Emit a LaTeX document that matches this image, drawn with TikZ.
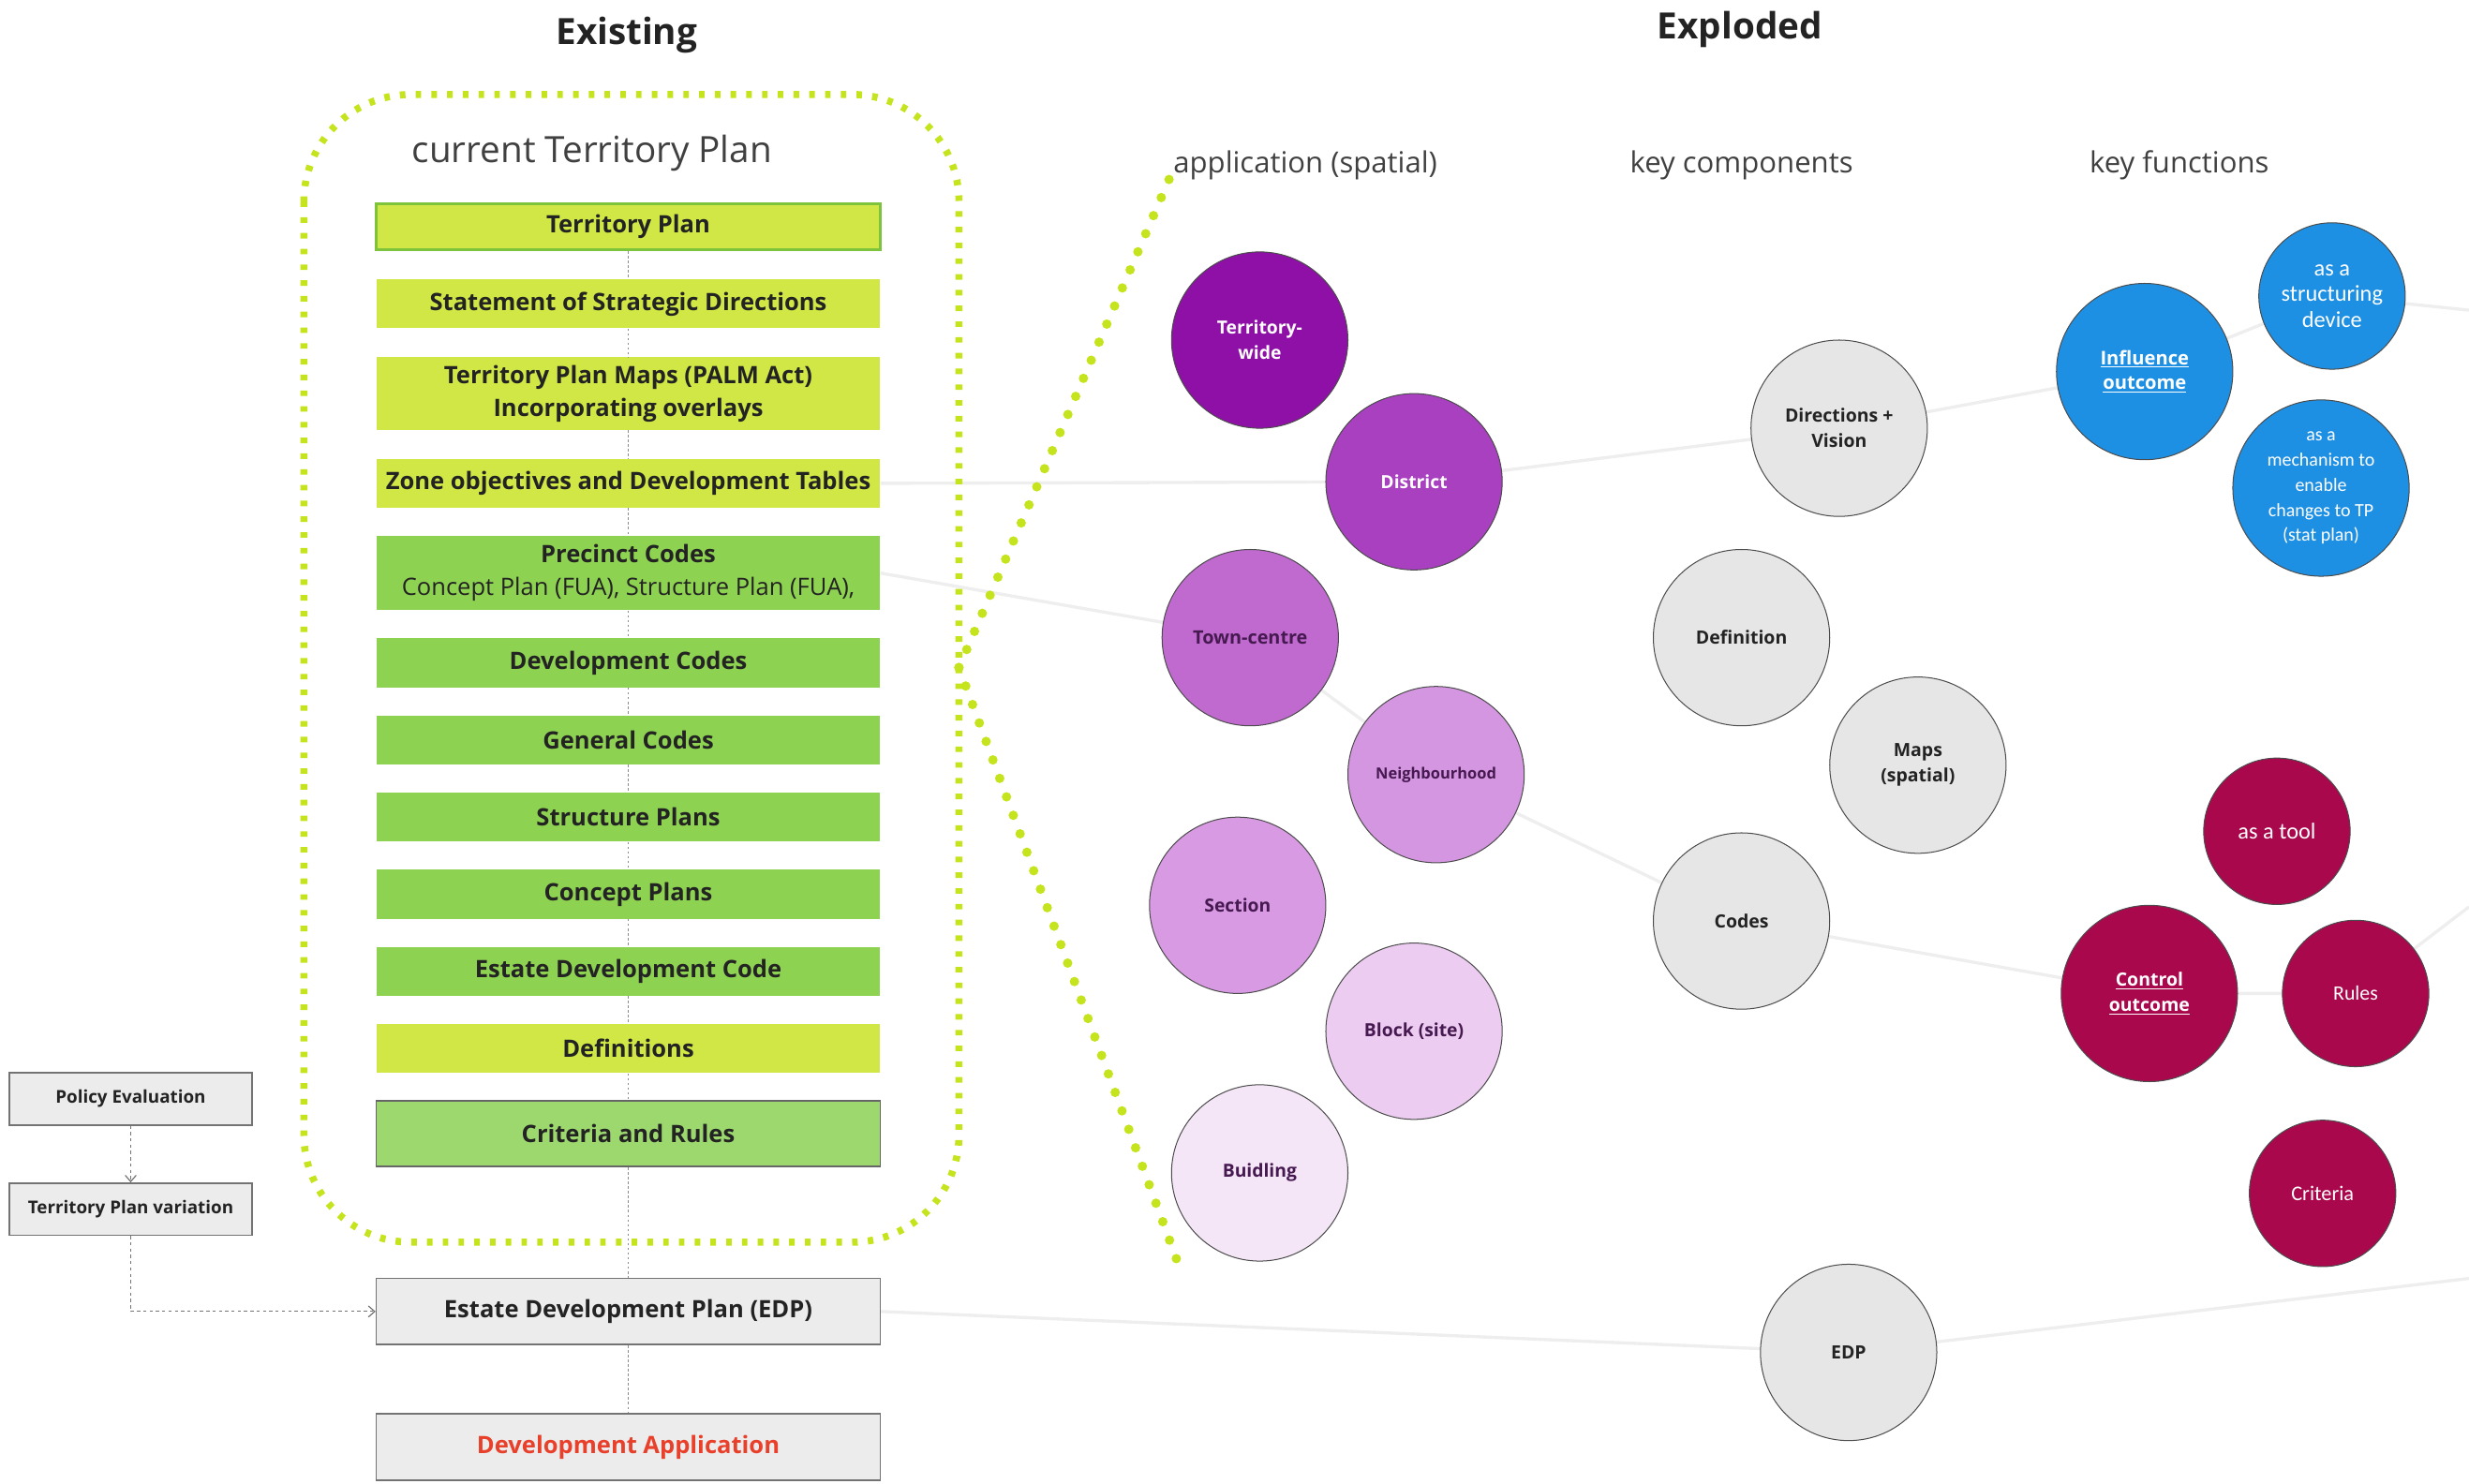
\documentclass[tikz,border=0pt]{standalone}
\usepackage{fontspec}
\setmainfont{Open Sans}
\newfontfamily\calfont{Carlito}
\usetikzlibrary{arrows.meta}
\pgfdeclarelayer{bg}
\pgfsetlayers{bg,main}

\definecolor{ygreen}{RGB}{208,231,70}
\definecolor{mgreen}{RGB}{142,210,82}
\definecolor{lgreen}{RGB}{156,216,110}
\definecolor{tpborder}{RGB}{125,195,60}
\definecolor{dotgreen}{RGB}{198,228,30}
\definecolor{boxgrey}{RGB}{236,236,236}
\definecolor{circgrey}{RGB}{230,230,230}
\definecolor{pur1}{RGB}{142,16,166}
\definecolor{pur2}{RGB}{168,64,192}
\definecolor{pur3}{RGB}{192,106,208}
\definecolor{pur4}{RGB}{212,150,224}
\definecolor{pur5}{RGB}{216,154,226}
\definecolor{pur6}{RGB}{236,204,240}
\definecolor{pur7}{RGB}{245,230,247}
\definecolor{purtext}{RGB}{70,25,80}
\definecolor{blue1}{RGB}{30,144,228}
\definecolor{crim}{RGB}{170,8,76}
\definecolor{redtext}{RGB}{232,64,42}
\definecolor{faint}{RGB}{238,238,238}
\definecolor{txt}{RGB}{35,35,35}

\tikzset{
  tpbox/.style={minimum width=320, minimum height=31, inner sep=0, align=center,
    font=\fontsize{15.2}{21}\selectfont\bfseries, text=txt},
  greybox/.style={tpbox, fill=boxgrey, draw=black!55, line width=1, minimum height=42},
  sidebox/.style={minimum width=154, minimum height=33, inner sep=0, align=center,
    fill=boxgrey, draw=black!55, line width=1, font=\fontsize{11.2}{13}\selectfont\bfseries, text=txt},
  circ/.style={circle, draw=black!70, line width=0.6, minimum size=112, inner sep=0, align=center},
  scirc/.style={circ, minimum size=93},
  gcirc/.style={circ, fill=circgrey, text=txt, font=\fontsize{11.6}{16}\selectfont\bfseries},
  pcirc/.style={circ, font=\fontsize{11.5}{16}\selectfont\bfseries},
  vdot/.style={draw=black!45, line width=0.7, dash pattern=on 1.5pt off 1.5pt},
  sidearrow/.style={draw=black!55, line width=0.7, dash pattern=on 2pt off 2pt, -{Straight Barb[length=4pt,width=7pt]}},
  bigdots/.style={draw=dotgreen, line width=4.5, dash pattern=on 3.5pt off 6.5pt},
  expdots/.style={draw=dotgreen, line width=6, line cap=round, dash pattern=on 0pt off 12.5pt},
  faintline/.style={draw=faint, line width=2},
  heading/.style={font=\fontsize{23}{26}\selectfont\bfseries, text=txt},
  colhead/.style={font=\fontsize{18.5}{22}\selectfont, text=black!75},
}

\begin{document}
\begin{tikzpicture}[x=1pt,y=-1pt]
\useasboundingbox (0,0) rectangle (1568,942);

% headings
\node[heading] (hExist) at (398,22) {Existing};
\node[heading] (hExpl) at (1105,19) {Exploded};
\node[font=\fontsize{23}{26}\selectfont, text=black!75] (hCur) at (376,97) {current Territory Plan};
\node[colhead] (hApp) at (829,105) {application (spatial)};
\node[colhead] (hKey) at (1106,105) {key components};
\node[colhead] (hFun) at (1384,105) {key functions};

% dotted container
\draw[bigdots, rounded corners=68] (193,60) rectangle (609,789);

% exploded lines
\coordinate (apex) at (609,424);
\coordinate (exTop) at (745,108);
\coordinate (exBot) at (748,802);
\draw[expdots] (apex) -- (exTop);
\draw[expdots] (apex) -- (exBot);

% boxes
\node[tpbox, fill=ygreen, draw=tpborder, line width=2.2, minimum height=29] (b1) at (399,144) {Territory Plan};
\node[tpbox, fill=ygreen] (b2) at (399,193) {Statement of Strategic Directions};
\node[tpbox, fill=ygreen, minimum height=46] (b3) at (399,250) {Territory Plan Maps (PALM Act)\\Incorporating overlays};
\node[tpbox, fill=ygreen] (b4) at (399,307) {Zone objectives and Development Tables};
\node[tpbox, fill=mgreen, minimum height=47] (b5) at (399,364) {Precinct Codes\\{\mdseries Concept Plan (FUA), Structure Plan (FUA),}};
\node[tpbox, fill=mgreen] (b6) at (399,421) {Development Codes};
\node[tpbox, fill=mgreen] (b7) at (399,470) {General Codes};
\node[tpbox, fill=mgreen] (b8) at (399,519) {Structure Plans};
\node[tpbox, fill=mgreen] (b9) at (399,568) {Concept Plans};
\node[tpbox, fill=mgreen] (b10) at (399,617) {Estate Development Code};
\node[tpbox, fill=ygreen] (b11) at (399,666) {Definitions};
\node[tpbox, fill=lgreen, draw=black!60, line width=1, minimum height=42] (b12) at (399,720) {Criteria and Rules};
\node[greybox] (b13) at (399,833) {Estate Development Plan (EDP)};
\node[greybox, text=redtext] (b14) at (399,919) {Development Application};

\foreach \a/\b in {b1/b2,b2/b3,b3/b4,b4/b5,b5/b6,b6/b7,b7/b8,b8/b9,b9/b10,b10/b11,b11/b12,b12/b13,b13/b14}
  \draw[vdot] (\a.south) -- (\b.north);

% side boxes
\node[sidebox] (pe) at (83,698) {Policy Evaluation};
\node[sidebox] (tpv) at (83,768) {Territory Plan variation};
\draw[sidearrow] (pe.south) -- (tpv.north);
\draw[sidearrow] (tpv.south) |- (b13.west);

% purple circles
\node[pcirc, fill=pur1, text=white] (tw) at (800,216) {Territory-\\wide};
\node[pcirc, fill=pur2, text=white] (dist) at (898,306) {District};
\node[pcirc, fill=pur3, text=purtext, font=\fontsize{11.8}{16}\selectfont\bfseries] (town) at (794,405) {Town-centre};
\node[pcirc, fill=pur4, text=purtext, font=\fontsize{9.8}{12}\selectfont\bfseries] (neigh) at (912,492) {Neighbourhood};
\node[pcirc, fill=pur5, text=purtext] (sect) at (786,575) {Section};
\node[pcirc, fill=pur6, text=purtext] (block) at (898,655) {Block (site)};
\node[pcirc, fill=pur7, text=purtext] (build) at (800,745) {Buidling};

% grey circles
\node[gcirc] (dv) at (1168,272) {Directions +\\Vision};
\node[gcirc] (defn) at (1106,405) {Definition};
\node[gcirc] (maps) at (1218,486) {Maps\\(spatial)};
\node[gcirc] (codes) at (1106,585) {Codes};
\node[gcirc] (edp) at (1174,859) {EDP};

% blue circles
\node[circ, fill=blue1, text=white, font=\fontsize{12}{16}\selectfont\bfseries] (infl) at (1362,236) {\underline{Influence}\\\underline{outcome}};
\node[scirc, fill=blue1, text=white, font=\calfont\fontsize{14.5}{16.5}\selectfont] (struct) at (1481,188) {as a\\structuring\\device};
\node[circ, fill=blue1, text=white, font=\calfont\fontsize{11.9}{16}\selectfont] (mech) at (1474,310) {as a\\mechanism to\\enable\\changes to TP\\(stat plan)};

% crimson circles
\node[scirc, fill=crim, text=white, font=\calfont\fontsize{14.5}{16}\selectfont] (tool) at (1446,528) {as a tool};
\node[circ, fill=crim, text=white, font=\fontsize{11.6}{16}\selectfont\bfseries] (ctrl) at (1365,631) {\underline{Control}\\\underline{outcome}};
\node[scirc, fill=crim, text=white, font=\calfont\fontsize{13}{16}\selectfont] (rules) at (1496,631) {Rules};
\node[scirc, fill=crim, text=white, font=\calfont\fontsize{13.3}{16}\selectfont] (crit) at (1475,758) {Criteria};

% faint connectors
\coordinate (outA) at (1568,197);
\coordinate (outB) at (1568,576);
\coordinate (outC) at (1568,812);
\begin{pgfonlayer}{bg}
  \draw[faintline] (b4.east) -- (dist.center) -- (dv.center) -- (infl.center) -- (struct.center) -- (outA);
  \draw[faintline] (b5.east) -- (town.center) -- (neigh.center) -- (codes.center) -- (ctrl.center) -- (rules.center) -- (outB);
  \draw[faintline] (b13.east) -- (edp.center) -- (outC);
\end{pgfonlayer}
\end{tikzpicture}
\end{document}
